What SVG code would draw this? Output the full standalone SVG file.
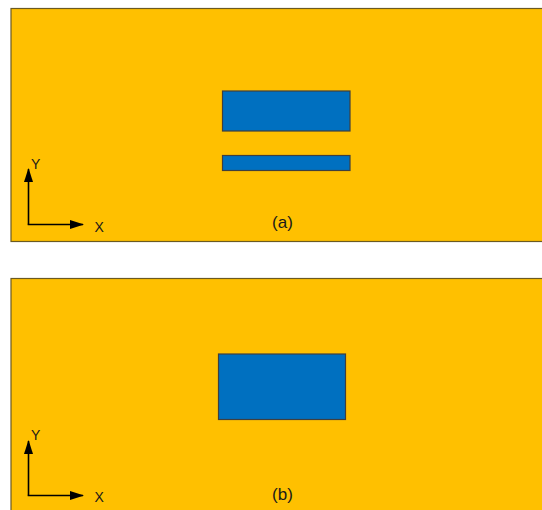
<svg xmlns="http://www.w3.org/2000/svg" width="542" height="510" viewBox="0 0 542 510">
<style>
.panel{fill:#FFC000;stroke:#6B5A22;stroke-width:1.2}
.blk{fill:#0070C0;stroke:#3F3F3F;stroke-width:1.2}
.ax{stroke:#000;stroke-width:1.6;fill:none}
.lbl{font-family:"Liberation Sans","Open Sans",sans-serif;fill:#1a1a1a}
.axl{font-size:14px}
.cap{font-size:17px}
</style>
<defs>
<marker id="ah" markerWidth="14" markerHeight="9" refX="13" refY="4.5" orient="auto" markerUnits="userSpaceOnUse">
<path d="M0,0 L14,4.5 L0,9 Z" fill="#000"/>
</marker>
</defs>
<rect width="542" height="510" fill="#fff"/>
<g id="panel-a">
<rect class="panel" x="11" y="8.5" width="540" height="233"/>
<g id="a-block-top"><rect class="blk" x="222.5" y="91" width="127.5" height="40"/></g>
<g id="a-block-bottom"><rect class="blk" x="222.5" y="155.5" width="127.5" height="15"/></g>
<text class="lbl cap" x="282.5" y="228" text-anchor="middle">(a)</text>
<text class="lbl axl" x="31" y="169">Y</text>
<text class="lbl axl" x="94.5" y="231.5">X</text>
</g>
<g id="panel-b">
<rect class="panel" x="11" y="278.5" width="540" height="240"/>
<g id="b-block"><rect class="blk" x="218.5" y="354" width="127" height="65.5"/></g>
<text class="lbl cap" x="282.5" y="500" text-anchor="middle">(b)</text>
<text class="lbl axl" x="31" y="440">Y</text>
<text class="lbl axl" x="94.5" y="502">X</text>
</g>
<g id="connectors">
<path class="ax" d="M28.5,224.5 V169" marker-end="url(#ah)"/>
<path class="ax" d="M27.7,224.5 H83" marker-end="url(#ah)"/>
<path class="ax" d="M28.5,495.5 V441" marker-end="url(#ah)"/>
<path class="ax" d="M27.7,495.5 H83" marker-end="url(#ah)"/>
</g>
</svg>
